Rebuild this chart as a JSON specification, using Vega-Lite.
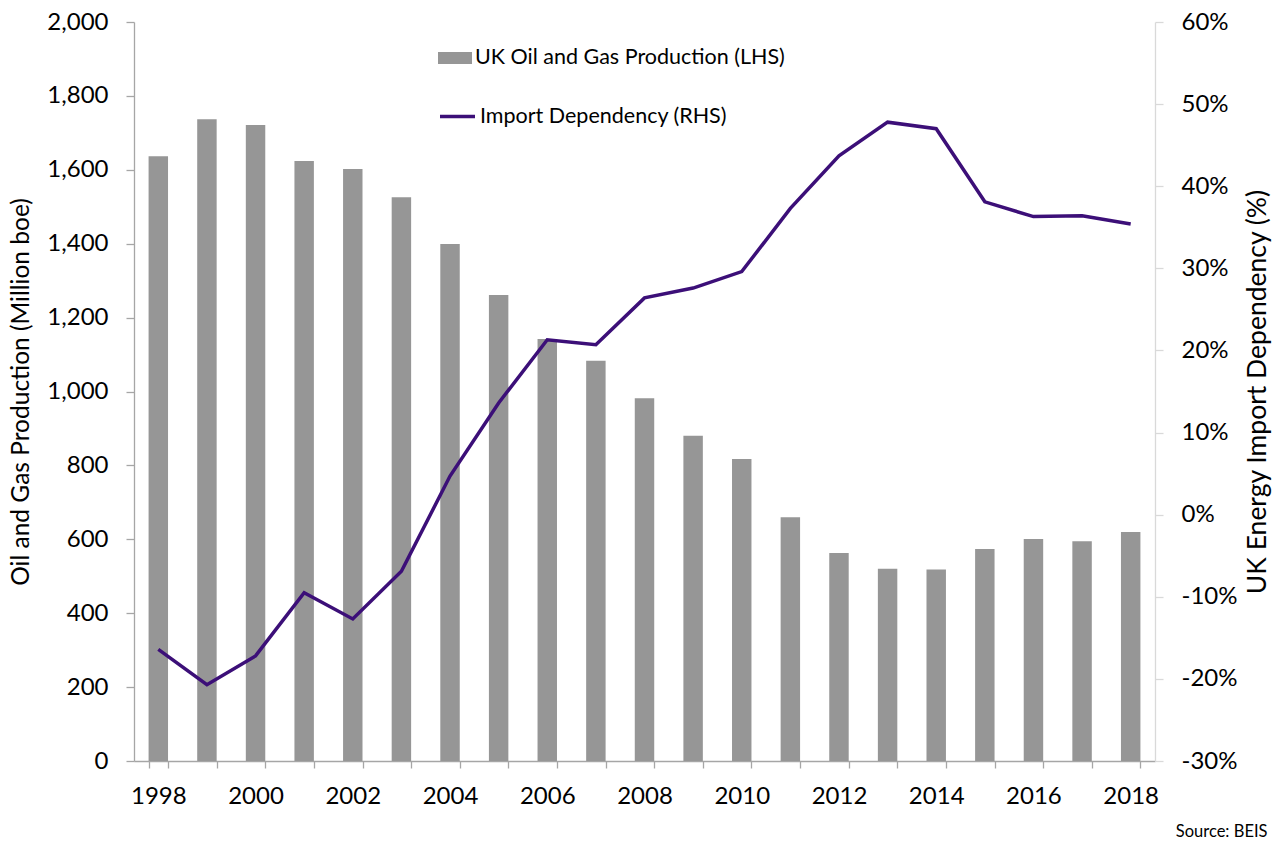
{
  "$schema": "https://vega.github.io/schema/vega-lite/v6.json",
  "width": 1021,
  "height": 739,
  "autosize": {"type": "none"},
  "padding": {"left": 134, "top": 22, "right": 132, "bottom": 81},
  "background": "white",
  "title": {"text": "Source: BEIS", "orient": "bottom", "anchor": "end", "dx": -4, "offset": 16, "fontSize": 16.5, "font": "Lato", "fontWeight": "normal", "color": "#000000"},
  "config": {
    "view": {"stroke": null},
    "font": "Lato",
    "axis": {"grid": false, "domainColor": "#a6a6a6", "tickColor": "#a6a6a6", "labelColor": "#000000", "titleColor": "#000000", "labelFont": "Lato", "titleFont": "Lato", "titleFontWeight": "normal", "domainWidth": 1.3, "tickWidth": 1.3}
  },
  "data": {"values": [
    {"year": "1998", "production": 1637, "dependency": -16.4},
    {"year": "1999", "production": 1737, "dependency": -20.7},
    {"year": "2000", "production": 1721, "dependency": -17.2},
    {"year": "2001", "production": 1624, "dependency": -9.5},
    {"year": "2002", "production": 1602, "dependency": -12.7},
    {"year": "2003", "production": 1526, "dependency": -6.9},
    {"year": "2004", "production": 1399, "dependency": 4.7},
    {"year": "2005", "production": 1261, "dependency": 13.6},
    {"year": "2006", "production": 1142, "dependency": 21.3},
    {"year": "2007", "production": 1083, "dependency": 20.7},
    {"year": "2008", "production": 982, "dependency": 26.4},
    {"year": "2009", "production": 880, "dependency": 27.6},
    {"year": "2010", "production": 817, "dependency": 29.6},
    {"year": "2011", "production": 660, "dependency": 37.3},
    {"year": "2012", "production": 563, "dependency": 43.7},
    {"year": "2013", "production": 520, "dependency": 47.8},
    {"year": "2014", "production": 518, "dependency": 47.0},
    {"year": "2015", "production": 574, "dependency": 38.1},
    {"year": "2016", "production": 601, "dependency": 36.3},
    {"year": "2017", "production": 595, "dependency": 36.4},
    {"year": "2018", "production": 620, "dependency": 35.4}
  ]},
  "layer": [
    {
      "mark": {"type": "bar"},
      "encoding": {
        "x": {"field": "year", "type": "ordinal",
          "scale": {"paddingInner": 0.6, "paddingOuter": 0.3},
          "axis": {"title": null, "labelAngle": 0, "tickBand": "extent", "labelExpr": "toNumber(datum.value) % 2 == 0 ? datum.label : ''", "labelFontSize": 24, "tickSize": 7, "labelPadding": 16}},
        "y": {"field": "production", "type": "quantitative",
          "scale": {"domain": [0, 2000], "nice": false},
          "axis": {"title": "Oil and Gas Production (Million boe)", "values": [0, 200, 400, 600, 800, 1000, 1200, 1400, 1600, 1800, 2000], "format": ",.0f", "labelFontSize": 24, "titleFontSize": 24.5, "tickSize": 8, "labelPadding": 18, "titlePadding": 13}},
        "color": {"datum": "UK Oil and Gas Production (LHS)", "type": "nominal",
          "scale": {"range": ["#969696"]},
          "legend": {"orient": "none", "legendX": 304, "legendY": 19, "title": null, "symbolType": "M-1,-0.35H1V0.35H-1Z", "symbolSize": 1156, "symbolStrokeWidth": 0, "labelFontSize": 21.5, "labelFont": "Lato", "labelColor": "#000000", "labelOffset": 3, "labelLimit": 0, "padding": 0}}
      }
    },
    {
      "mark": {"type": "line", "strokeWidth": 3.5},
      "encoding": {
        "x": {"field": "year", "type": "ordinal"},
        "y": {"field": "dependency", "type": "quantitative",
          "scale": {"domain": [-30, 60], "nice": false},
          "axis": {"orient": "right", "title": "UK Energy Import Dependency (%)", "values": [-30, -20, -10, 0, 10, 20, 30, 40, 50, 60], "labelExpr": "datum.value + '%'", "labelFontSize": 24, "titleFontSize": 26.5, "titleAngle": 270, "titleBaseline": "top", "tickSize": 8, "labelPadding": 18, "titlePadding": 8, "domainColor": "#d9d9d9", "tickColor": "#d9d9d9"}},
        "stroke": {"datum": "Import Dependency (RHS)", "type": "nominal",
          "scale": {"range": ["#3c0f78"]},
          "legend": {"orient": "none", "legendX": 304, "legendY": 75, "title": null, "symbolType": "stroke", "symbolSize": 1225, "symbolStrokeWidth": 3.5, "labelFontSize": 21.5, "labelFont": "Lato", "labelColor": "#000000", "labelOffset": 3, "labelLimit": 0, "padding": 0}}
      }
    }
  ],
  "resolve": {"scale": {"y": "independent", "color": "independent", "stroke": "independent"}}
}
